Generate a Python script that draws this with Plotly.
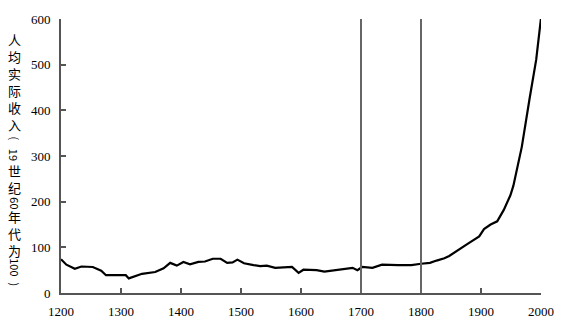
import plotly.graph_objects as go

years = [1200, 1209, 1223, 1234, 1253, 1267, 1275, 1308, 1313, 1335, 1357, 1371, 1382, 1393,
         1404, 1415, 1429, 1440, 1453, 1466, 1477, 1486, 1494, 1505, 1521, 1532, 1543, 1557,
         1585, 1596, 1604, 1626, 1639, 1664, 1686, 1694, 1702, 1719, 1735, 1762, 1784, 1800,
         1815, 1826, 1839, 1847, 1861, 1877, 1897, 1905, 1916, 1927, 1938, 1949, 1954, 1968,
         1981, 1992, 2000]
income = [74, 62, 53, 58, 57, 49, 39, 39, 32, 42, 46, 54, 66, 60,
          68, 63, 68, 69, 75, 75, 66, 67, 73, 65, 61, 59, 60, 55,
          57, 44, 51, 50, 47, 51, 55, 50, 57, 55, 62, 61, 61, 64,
          66, 71, 76, 81, 94, 107, 124, 140, 150, 157, 182, 214, 235, 320,
          426, 511, 602]
xticks = [1200, 1300, 1400, 1500, 1600, 1700, 1800, 1900, 2000]
yticks = [0, 100, 200, 300, 400, 500, 600]
markers = [1700, 1800]
# vertical y-axis title: 人均实际收入（19世纪60年代为100）
title_runs = ["人均实际收入", "(", "19", "世纪", "60", "年代为", "100", ")"]

fig = go.Figure()
fig.add_trace(go.Scatter(x=years, y=income, mode="lines",
                         line=dict(color="black", width=2.2, shape="linear"),
                         showlegend=False, hoverinfo="skip"))

for m in markers:
    fig.add_shape(type="line", xref="x", yref="y", x0=m, x1=m, y0=0, y1=610,
                  line=dict(color="#666666", width=2))

serif = "Liberation Serif"
axis_common = dict(showgrid=False, zeroline=False, showline=True, linecolor="#555555",
                   linewidth=2, ticks="inside", ticklen=5, tickwidth=2, tickcolor="#555555",
                   tickfont=dict(family=serif, size=13, color="black"))
fig.update_xaxes(range=[1200, 2000], tickvals=xticks, ticktext=[str(t) for t in xticks],
                 ticklabelstandoff=5, **axis_common)
fig.update_yaxes(range=[0, 600], tickvals=yticks, ticktext=[str(t) for t in yticks],
                 ticklabelstandoff=6, **axis_common)

# vertical title layout (pixel centres from top of the image)
plot_top, plot_bottom = 18, 301
centres = [83, 141, 158, 183, 208, 240, 274, 292]
for txt, py in zip(title_runs, centres):
    rotated = not ("\u4e00" <= txt[0] <= "\u9fff")
    fig.add_annotation(text=txt if rotated else "<br>".join(txt),
                       xref="paper", yref="paper",
                       x=(14 - 61) / 487.0,
                       y=(plot_bottom - py) / (plot_bottom - plot_top),
                       showarrow=False, textangle=90 if rotated else 0,
                       xanchor="center", yanchor="middle",
                       font=dict(family="Noto Sans CJK SC", size=11 if rotated else 13,
                                 color="black"))

fig.update_layout(width=566, height=331, margin=dict(l=61, r=18, t=18, b=30),
                  plot_bgcolor="white", paper_bgcolor="white")
fig.write_html("out.html")
